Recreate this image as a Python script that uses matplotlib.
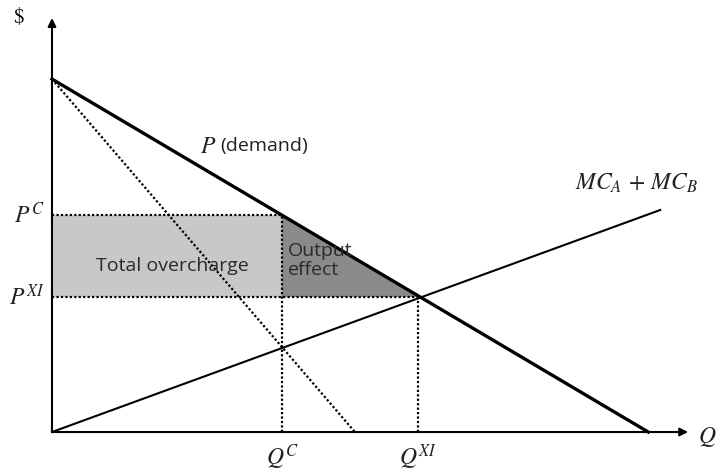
import matplotlib.pyplot as plt

plt.rcParams['mathtext.fontset'] = 'stix'

# values (Q and $ in arbitrary units)
demand_q = [0, 10.0]
demand_p = [10.0, 0]
mr_q = [0, 5.08]
mr_p = [10.0, 0]
mc_q = [0, 10.2]
mc_p = [0, 6.29]
q_c, q_xi = 3.86, 6.14
p_c, p_xi = 6.15, 3.82
x_end, y_end = 10.67, 11.73

fig = plt.figure(figsize=(7.18, 4.76), dpi=100)
ax = fig.add_axes([0, 0, 1, 1])
ax.set_xlim(-0.872, 11.17)
ax.set_ylim(-1.246, 12.24)
ax.axis('off')

dots = (0, (1, 1))

# shaded areas
ax.fill_between([0, q_c], p_xi, p_c, color='#c8c8c8', lw=0, zorder=1)
ax.fill([q_c, q_c, q_xi], [p_c, p_xi, p_xi], color='#8a8a8a', lw=0, zorder=1)

# axes with arrows
ax.annotate('', xy=(x_end, 0), xytext=(0, 0),
            arrowprops=dict(arrowstyle='-|>', color='black', lw=1.5,
                            mutation_scale=12, shrinkA=0, shrinkB=0))
ax.annotate('', xy=(0, y_end), xytext=(0, 0),
            arrowprops=dict(arrowstyle='-|>', color='black', lw=1.5,
                            mutation_scale=12, shrinkA=0, shrinkB=0))

# curves
ax.plot(demand_q, demand_p, color='black', lw=2.4, zorder=3)
ax.plot(mc_q, mc_p, color='black', lw=1.5, zorder=3)
ax.plot(mr_q, mr_p, color='black', lw=1.6, ls=dots, zorder=3)

# dotted guides
ax.plot([0, q_c], [p_c, p_c], color='black', lw=1.6, ls=dots, zorder=2)
ax.plot([0, q_xi], [p_xi, p_xi], color='black', lw=1.6, ls=dots, zorder=2)
ax.plot([q_c, q_c], [0, p_c], color='black', lw=1.6, ls=dots, zorder=2)
ax.plot([q_xi, q_xi], [0, p_xi], color='black', lw=1.6, ls=dots, zorder=2)

# labels
serif = dict(fontsize=17, color='#222222')
ax.text(-0.55, 11.8, r'$\mathrm{\$}$', ha='center', va='center', fontsize=15)
ax.text(-0.12, p_c, r'$P^C$', ha='right', va='center', **serif)
ax.text(-0.12, p_xi, r'$P^{XI}$', ha='right', va='center', **serif)
ax.text(q_c, -0.7, r'$Q^C$', ha='center', va='center', **serif)
ax.text(q_xi, -0.7, r'$Q^{XI}$', ha='center', va='center', **serif)
ax.text(x_end + 0.17, -0.15, r'$Q$', ha='left', va='center', **serif)
ax.text(9.8, 7.05, r'$MC_A\,+\,MC_B$', ha='center', va='center', **serif)
ax.text(2.48, 8.1, r'$P$', ha='left', va='center', **serif)
ax.text(2.82, 8.1, '(demand)', ha='left', va='center',
        fontsize=14, family='Open Sans', color='#222222')
ax.text(2.02, 4.7, 'Total overcharge', ha='center', va='center',
        fontsize=14, family='Open Sans', color='#2a2a2a')
ax.text(q_c + 0.1, 4.85, 'Output\neffect', ha='left', va='center',
        fontsize=14, family='Open Sans', color='#2a2a2a', linespacing=1.05)

fig.savefig('out.png', dpi=100)
